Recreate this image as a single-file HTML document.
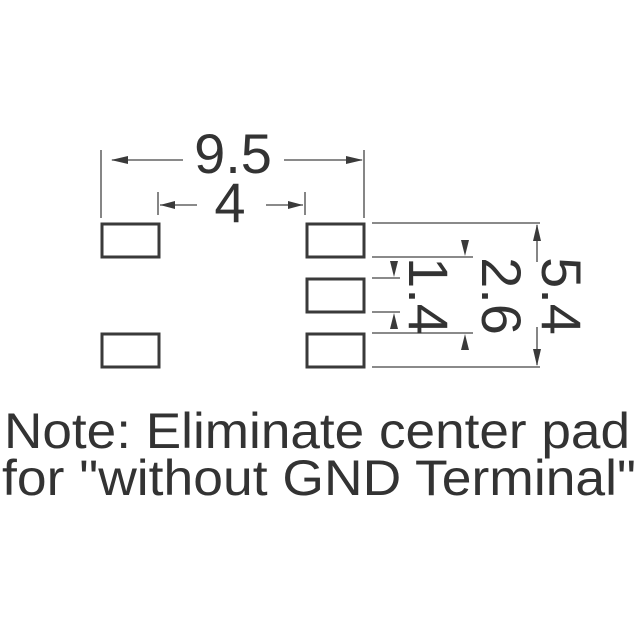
<!DOCTYPE html>
<html><head><meta charset="utf-8"><style>html,body{margin:0;padding:0;background:#fff}svg{display:block}</style></head>
<body>
<svg width="640" height="640" viewBox="0 0 640 640" xmlns="http://www.w3.org/2000/svg">
<g fill="none" stroke="#3a3a3a" stroke-width="3">
<rect x="102" y="224" width="57" height="33"/>
<rect x="102" y="334" width="57" height="33"/>
<rect x="307" y="224" width="57" height="33"/>
<rect x="307" y="279" width="57" height="33"/>
<rect x="307" y="334" width="57" height="33"/>
</g>
<g stroke="#444" stroke-width="1.3" fill="none">
<line x1="101" y1="150" x2="101" y2="218"/>
<line x1="364" y1="150" x2="364" y2="218"/>
<line x1="112" y1="160" x2="183" y2="160"/>
<line x1="284" y1="160" x2="362" y2="160"/>
<line x1="158" y1="192" x2="158" y2="215"/>
<line x1="305" y1="192" x2="305" y2="215"/>
<line x1="160" y1="205" x2="197" y2="205"/>
<line x1="266" y1="205" x2="303" y2="205"/>
<line x1="372" y1="223" x2="540" y2="223"/>
<line x1="372" y1="367" x2="540" y2="367"/>
<line x1="372" y1="257" x2="473" y2="257"/>
<line x1="372" y1="333" x2="473" y2="333"/>
<line x1="372" y1="278" x2="400" y2="278"/>
<line x1="372" y1="312" x2="400" y2="312"/>
<line x1="537" y1="225" x2="537" y2="262"/>
<line x1="537" y1="327" x2="537" y2="365"/>
</g>
<g fill="#3a3a3a">
<polygon points="111,160 128,156 128,164"/>
<polygon points="363,160 346,156 346,164"/>
<polygon points="160,205 175,201 175,209"/>
<polygon points="303,205 288,201 288,209"/>
<polygon points="537,224 533,241 541,241"/>
<polygon points="537,366 533,349 541,349"/>
<polygon points="465,256 461,240 469,240"/>
<polygon points="465,334 461,350 469,350"/>
<polygon points="394,277 390,261 398,261"/>
<polygon points="394,313 390,329 398,329"/>
</g>
<g font-family="Liberation Sans, sans-serif" fill="#333" font-size="56">
<text x="233" y="173" text-anchor="middle">9.5</text>
<text x="230" y="222" text-anchor="middle">4</text>
<text transform="translate(542,296) rotate(90)" text-anchor="middle">5.4</text>
<text transform="translate(482,296) rotate(90)" text-anchor="middle">2.6</text>
<text transform="translate(409,296) rotate(90)" text-anchor="middle">1.4</text>
</g>
<g font-family="Liberation Sans, sans-serif" fill="#333" font-size="50">
<text x="4" y="448" textLength="626" lengthAdjust="spacingAndGlyphs">Note: Eliminate center pad</text>
<text x="2" y="495" textLength="634" lengthAdjust="spacingAndGlyphs">for "without GND Terminal"</text>
</g>
</svg>
</body></html>
